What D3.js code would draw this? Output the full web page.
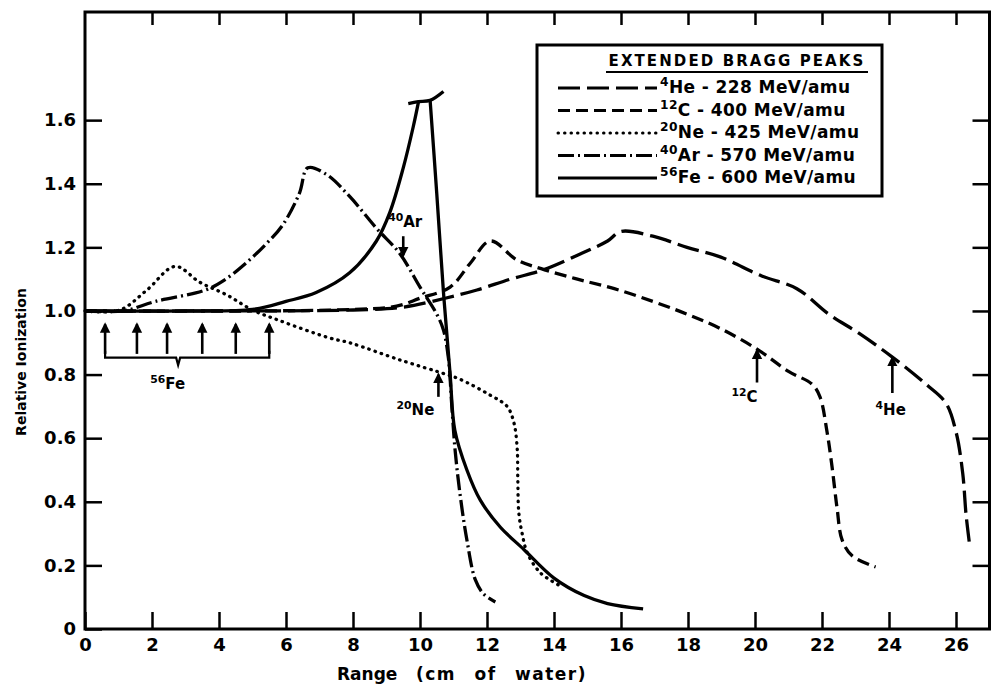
<!DOCTYPE html>
<html>
<head>
<meta charset="utf-8">
<script src="https://cdn.jsdelivr.net/npm/d3@7"></script>
<style>
  body { margin: 0; background: #fff; }
  svg { display: block; font-family: "DejaVu Sans", sans-serif; font-weight: bold; }
</style>
</head>
<body>
<svg width="999" height="693"></svg>
<script>
// Curves: [range (cm of water), relative ionization]
var helium = [[0,1.0],[4,1.0],[8,1.003],[9.5,1.012],[10.75,1.04],[11.7,1.066],[12.7,1.10],
      [13.7,1.13],[14.8,1.18],[15.6,1.22],[16.0,1.25],[16.95,1.235],[17.97,1.20],[18.96,1.17],
      [20.2,1.11],[21.25,1.07],[22.2,0.99],[23.1,0.93],[24.1,0.855],[25.1,0.77],[25.7,0.71],
      [26.0,0.62],[26.2,0.49],[26.3,0.36],[26.4,0.27]]
  , carbon = [[0,1.0],[5,1.0],[8,1.005],[9.3,1.015],[10.0,1.04],[10.9,1.075],[11.5,1.15],
      [12.1,1.22],[12.9,1.16],[13.7,1.13],[14.7,1.10],[15.8,1.07],[16.95,1.03],[17.97,0.99],
      [18.96,0.945],[20.06,0.88],[21.0,0.81],[21.7,0.77],[21.94,0.73],[22.15,0.62],[22.3,0.51],
      [22.45,0.38],[22.6,0.28],[22.9,0.23],[23.6,0.195]]
  , neon = [[0,1.0],[1.04,1.003],[1.85,1.066],[2.69,1.14],[3.43,1.09],[4.24,1.05],[5.0,1.003],
      [5.8,0.97],[7.3,0.915],[7.9,0.90],[9.4,0.846],[10.8,0.80],[11.2,0.785],[12.1,0.735],
      [12.6,0.70],[12.8,0.65],[12.9,0.57],[12.92,0.47],[12.95,0.365],[13.05,0.30],[13.2,0.24],
      [13.6,0.176],[14.2,0.135]]
  , argon = [[0,1.0],[1.13,1.0],[2.1,1.03],[3.6,1.066],[4.2,1.10],[4.8,1.15],[5.4,1.21],
      [5.9,1.27],[6.4,1.37],[6.65,1.45],[7.2,1.43],[7.9,1.36],[8.7,1.26],[9.4,1.18],[10.0,1.075],
      [10.5,0.99],[10.7,0.94],[10.85,0.85],[10.95,0.70],[11.05,0.56],[11.2,0.42],[11.4,0.28],
      [11.65,0.155],[11.9,0.11],[12.25,0.085]]
  , ironRise = [[0,1.0],[3,1.0],[5.0,1.005],[6.0,1.03],[6.9,1.058],[7.9,1.12],[8.7,1.22],[9.1,1.31],
      [9.5,1.45],[9.8,1.58],[9.95,1.655]]
  , ironFall = [[10.3,1.665],[10.5,1.37],[10.7,1.06],[10.9,0.80],
      [11.04,0.625],[11.4,0.50],[11.8,0.405],[12.4,0.32],[13.1,0.25],[14.0,0.16],[14.9,0.105],
      [15.6,0.08],[16.66,0.063]]
  , ironCap = [[9.65,1.652],[9.95,1.658],[10.3,1.662],[10.7,1.69]]
;

// Tick values
var xTicks = d3.range(0, 27, 2)
  , yTicks = [0, 0.2, 0.4, 0.6, 0.8, 1.0, 1.2, 1.4, 1.6]
;

// Legend entries
var ions = ["4He", "12C", "20Ne", "40Ar", "56Fe"]
  , massNumbers = ["4", "12", "20", "40", "56"]
  , symbols = ["He", "C", "Ne", "Ar", "Fe"]
  , energies = ["228", "400", "425", "570", "600"]
;

// Annotations: 56Fe arrows under the plateau, labelled arrows on curves
var feArrowX = [0.6, 1.55, 2.45, 3.5, 4.5, 5.5]
  , callouts = [
      // mass, symbol, text x/y, arrow x, arrow from, arrow to
      { m: "40", s: "Ar", tx: 9.05, ty: 1.265, ax: 9.5, y0: 1.235, y1: 1.175 },
      { m: "20", s: "Ne", tx: 9.3,  ty: 0.673, ax: 10.55, y0: 0.73, y1: 0.80 },
      { m: "12", s: "C",  tx: 19.3, ty: 0.714, ax: 20.06, y0: 0.775, y1: 0.875 },
      { m: "4",  s: "He", tx: 23.6, ty: 0.673, ax: 24.1, y0: 0.742, y1: 0.852 }
    ]
;

// Line style for each ion (legend order)
var dashes = ["22,7", "12,6", "0.5,6", "16,4,2,4", null];

var svg = d3.select("svg")
  , x = d3.scaleLinear().domain([0, 27]).range([85, 989.5])
  , y = d3.scaleLinear().domain([0, 1.94]).range([629, 12])
  , line = d3.line()
      .x(function (d){ return x(d[0]); })
      .y(function (d){ return y(d[1]); })
      .curve(d3.curveCatmullRom.alpha(0.5))
;

svg.append("defs").append("marker")
    .attr("id", "arrow")
    .attr("viewBox", "0 0 10 10")
    .attr("refX", 8).attr("refY", 5)
    .attr("markerWidth", 4).attr("markerHeight", 4.5)
    .attr("orient", "auto")
  .append("path")
    .attr("d", "M0,0 L10,5 L0,10 z")
    .attr("fill", "#000");

// Axes, ticks pointing inward on all four sides
function styleAxis(g){
  g.select(".domain").remove();
  g.selectAll(".tick line").attr("stroke", "#000").attr("stroke-width", 2.5);
  g.selectAll(".tick text").attr("fill", "#000").attr("font-size", 18)
    .attr("font-family", "'DejaVu Sans', sans-serif").attr("font-weight", "bold");
}

svg.append("g")
    .attr("transform", "translate(0," + y(0) + ")")
    .call(d3.axisBottom(x).tickValues(xTicks).tickSize(-17).tickPadding(9))
    .call(styleAxis);
svg.append("g")
    .attr("transform", "translate(0," + y(1.94) + ")")
    .call(d3.axisTop(x).tickValues(xTicks.slice(1)).tickSize(-13).tickFormat(""))
    .call(styleAxis);
svg.append("g")
    .attr("transform", "translate(" + x(0) + ",0)")
    .call(d3.axisLeft(y).tickValues(yTicks).tickSize(-17).tickPadding(9)
      .tickFormat(function (d){ return d === 0 ? "0" : d3.format(".1f")(d); }))
    .call(styleAxis);
svg.append("g")
    .attr("transform", "translate(" + x(27) + ",0)")
    .call(d3.axisRight(y).tickValues(yTicks.slice(1)).tickSize(-17).tickFormat(""))
    .call(styleAxis);

// Frame
svg.append("rect")
    .attr("x", x(0)).attr("y", y(1.94))
    .attr("width", x(27) - x(0)).attr("height", y(0) - y(1.94))
    .attr("fill", "none").attr("stroke", "#000").attr("stroke-width", 3);

// Axis titles
svg.append("text")
    .attr("x", 337).attr("y", 680)
    .attr("font-size", 17)
    .text("Range");
svg.append("text")
    .attr("x", 416).attr("y", 680)
    .attr("font-size", 17)
    .attr("letter-spacing", 1.5)
    .attr("word-spacing", 11)
    .text("(cm of water)");
svg.append("text")
    .attr("transform", "translate(26,362) rotate(-90)")
    .attr("text-anchor", "middle")
    .attr("font-size", 14)
    .text("Relative Ionization");

// Curves
var curves = [
    { data: helium, dash: dashes[0] },
    { data: carbon, dash: dashes[1] },
    { data: neon, dash: dashes[2] },
    { data: argon, dash: dashes[3] },
    { data: ironRise, dash: null },
    { data: ironFall, dash: null },
    { data: ironCap, dash: null }
  ];
svg.append("g").selectAll("path")
  .data(curves)
  .enter().append("path")
    .attr("d", function (d){ return line(d.data); })
    .attr("fill", "none")
    .attr("stroke", "#000")
    .attr("stroke-width", 3.3)
    .attr("stroke-linejoin", "round")
    .attr("stroke-linecap", function (d){ return d.data === neon ? "round" : "butt"; })
    .attr("stroke-dasharray", function (d){ return d.dash; });

// Superscripted isotope label
function isotope(g, px, py, mass, sym, size){
  var t = g.append("text").attr("x", px).attr("y", py).attr("font-size", size);
  t.append("tspan").attr("font-size", size * 0.72).attr("dy", -size * 0.4).text(mass);
  t.append("tspan").attr("dy", size * 0.4).text(sym);
  return t;
}

// 56Fe marker arrows and brace
var ann = svg.append("g");
ann.selectAll("line.fe")
  .data(feArrowX)
  .enter().append("line")
    .attr("class", "fe")
    .attr("x1", function (d){ return x(d); }).attr("x2", function (d){ return x(d); })
    .attr("y1", y(0.865)).attr("y2", y(0.958))
    .attr("stroke", "#000").attr("stroke-width", 2.6)
    .attr("marker-end", "url(#arrow)");
ann.append("path")
    .attr("d", "M" + x(0.6) + "," + y(0.875) + "V" + y(0.853) + "H" + x(2.72)
      + "L" + x(2.78) + "," + y(0.83) + "L" + x(2.84) + "," + y(0.853)
      + "H" + x(5.5) + "V" + y(0.875))
    .attr("fill", "none").attr("stroke", "#000").attr("stroke-width", 2.2);
isotope(ann, x(1.95), y(0.755), "56", "Fe", 15);

// Labelled arrows on the curves
callouts.forEach(function (c){
  ann.append("line")
      .attr("x1", x(c.ax)).attr("x2", x(c.ax))
      .attr("y1", y(c.y0)).attr("y2", y(c.y1))
      .attr("stroke", "#000").attr("stroke-width", 2.6)
      .attr("marker-end", "url(#arrow)");
  isotope(ann, x(c.tx), y(c.ty), c.m, c.s, 15);
});

// Legend
var legend = svg.append("g");
legend.append("rect")
    .attr("x", 537).attr("y", 45).attr("width", 345).attr("height", 151)
    .attr("fill", "#fff").attr("stroke", "#000").attr("stroke-width", 3);
legend.append("text")
    .attr("x", 737).attr("y", 66)
    .attr("text-anchor", "middle")
    .attr("font-size", 15)
    .attr("letter-spacing", 2.1)
    .text("EXTENDED BRAGG PEAKS");
legend.append("line")
    .attr("x1", 606).attr("x2", 868).attr("y1", 72).attr("y2", 72)
    .attr("stroke", "#000").attr("stroke-width", 2);

var rows = legend.selectAll("g.row")
  .data(ions)
  .enter().append("g")
    .attr("class", "row")
    .attr("transform", function (d, i){ return "translate(0," + (93 + i * 22.5) + ")"; });
rows.append("line")
    .attr("x1", 558).attr("x2", 657).attr("y1", -5).attr("y2", -5)
    .attr("stroke", "#000").attr("stroke-width", 3)
    .attr("stroke-linecap", function (d, i){ return i === 2 ? "round" : "butt"; })
    .attr("stroke-dasharray", function (d, i){ return dashes[i]; });
rows.each(function (d, i){
  var t = isotope(d3.select(this), 660, 0, massNumbers[i], symbols[i], 17);
  t.attr("letter-spacing", 0.4);
  t.append("tspan").text(" - " + energies[i] + " MeV/amu");
});
</script>
</body>
</html>
